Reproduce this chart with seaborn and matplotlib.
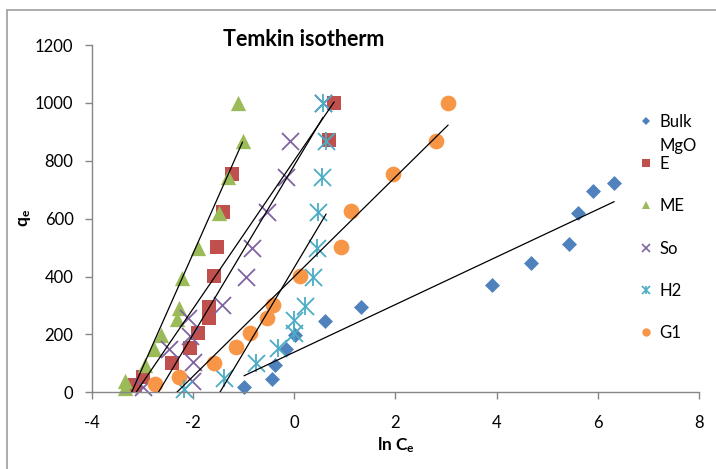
import matplotlib
matplotlib.use("Agg")
import matplotlib.pyplot as plt
from matplotlib.lines import Line2D
import seaborn as sns

# Temkin isotherm readings: ln Ce (x) against qe (y) for each MgO sample
bulk_x = [-0.99, -0.44, -0.38, -0.16, 0.01, 0.61, 1.31, 3.91, 4.68, 5.43, 5.60, 5.90, 6.32]
bulk_y = [20, 45, 96, 150, 197, 248, 294, 371, 446, 513, 618, 697, 724]

e_x = [-3.14, -2.98, -2.42, -2.06, -1.89, -1.69, -1.69, -1.59, -1.53, -1.41, -1.22, 0.68, 0.79]
e_y = [25, 54, 100, 152, 204, 256, 296, 402, 503, 624, 754, 872, 1000]

me_x = [-3.35, -3.35, -2.94, -2.76, -2.63, -2.32, -2.27, -2.22, -1.90, -1.49, -1.30, -1.02, -1.11]
me_y = [40, 15, 95, 148, 198, 252, 290, 395, 497, 620, 745, 868, 1000]

so_x = [-2.98, -2.02, -1.99, -2.48, -2.06, -2.09, -1.43, -0.95, -0.84, -0.54, -0.16, -0.08, 0.57]
so_y = [20, 40, 106, 150, 195, 256, 300, 400, 500, 622, 745, 870, 1000]

h2_x = [-2.18, -1.38, -0.76, -0.31, 0.0, 0.0, 0.22, 0.37, 0.45, 0.48, 0.55, 0.63, 0.57]
h2_y = [12, 48, 100, 152, 204, 250, 298, 400, 500, 622, 745, 870, 1000]

g1_x = [-2.75, -2.27, -1.59, -1.15, -0.88, -0.54, -0.41, 0.12, 0.93, 1.13, 1.95, 2.80, 3.04]
g1_y = [28, 54, 102, 155, 204, 256, 302, 402, 503, 627, 755, 870, 1000]

labels = ["Bulk MgO", "E", "ME", "So", "H2", "G1"]
colors = ["#4F81BD", "#C0504D", "#9BBB59", "#8064A2", "#4BACC6", "#F79646"]

x_ticks = [-4, -2, 0, 2, 4, 6, 8]
y_ticks = [0, 200, 400, 600, 800, 1000, 1200]

sns.set_theme(style="white")
plt.rcParams["font.family"] = ["Lato", "DejaVu Sans"]
plt.rcParams["mathtext.fontset"] = "custom"
plt.rcParams["mathtext.rm"] = "Lato"
plt.rcParams["mathtext.bf"] = "Lato:bold"
plt.rcParams["mathtext.it"] = "Lato:italic"

W, H = 716, 469
fig = plt.figure(figsize=(W / 100, H / 100), dpi=100)
fig.patch.set_facecolor("white")

left, right, top, bottom = 91.6, 699.3, 45.0, 392.3
ax = fig.add_axes([left / W, 1 - bottom / H, (right - left) / W, (bottom - top) / H])
ax.set_facecolor("white")

series = [
    (bulk_x, bulk_y, "D", 58),
    (e_x, e_y, "s", 100),
    (me_x, me_y, "^", 121),
    (so_x, so_y, "x", 150),
    (h2_x, h2_y, "x", 150),
    (g1_x, g1_y, "o", 128),
]

for (xs, ys, mk, size), col in zip(series, colors):
    if mk == "x":
        sns.scatterplot(x=xs, y=ys, marker="x", s=size, color=col,
                        linewidth=1.3, ax=ax, zorder=2, clip_on=False)
    else:
        sns.scatterplot(x=xs, y=ys, marker=mk, s=size, color=col,
                        linewidth=0, ax=ax, zorder=2, clip_on=False)

# H2 uses a star marker: an x crossed by a vertical stroke
sns.scatterplot(x=h2_x, y=h2_y, marker="|", s=150, color=colors[4],
                linewidth=1.3, ax=ax, zorder=2, clip_on=False)

# Linear trendlines over each sample's data range
for (xs, ys, mk, size) in series:
    sns.regplot(x=xs, y=ys, scatter=False, ci=None, truncate=True, color="black",
                line_kws={"linewidth": 0.9, "zorder": 3}, ax=ax)

ax.set_xlim(-4, 8)
ax.set_ylim(0, 1200)
ax.set_xticks(x_ticks)
ax.set_yticks(y_ticks)
ax.set_xticklabels([str(t) for t in x_ticks])
ax.set_yticklabels([str(t) for t in y_ticks])
ax.set_xlabel("")
ax.set_ylabel("")

axis_grey = "#868686"
for side in ("top", "right"):
    ax.spines[side].set_visible(False)
for side in ("left", "bottom"):
    ax.spines[side].set_color(axis_grey)
    ax.spines[side].set_linewidth(1.0)
ax.tick_params(axis="both", which="major", direction="out", length=5, width=1,
               color=axis_grey, labelsize=12, labelcolor="black")
ax.tick_params(axis="x", bottom=True, pad=11)
ax.tick_params(axis="y", left=True, pad=8)
ax.grid(False)

# Title and axis labels
fig.text(223 / W, 1 - 40 / H, "Temkin isotherm", ha="left", va="center",
         fontsize=15.5, fontweight="bold", color="black")
fig.text(25 / W, 1 - 218 / H, r"q$_{\mathbf{e}}$", rotation=90, ha="center",
         va="center", fontsize=12.5, fontweight="bold", color="black")
fig.text(396 / W, 1 - 445 / H, r"ln C$_{\mathbf{e}}$", ha="center", va="center",
         fontsize=12.5, fontweight="bold", color="black")

# Legend
handles = [
    Line2D([], [], marker="D", color=colors[0], linestyle="none", markersize=4.1, markeredgewidth=0),
    Line2D([], [], marker="s", color=colors[1], linestyle="none", markersize=5.5, markeredgewidth=0),
    Line2D([], [], marker="^", color=colors[2], linestyle="none", markersize=6, markeredgewidth=0),
    Line2D([], [], marker="x", color=colors[3], linestyle="none", markersize=6, markeredgewidth=1.2),
    (Line2D([], [], marker="x", color=colors[4], linestyle="none", markersize=6, markeredgewidth=1.2),
     Line2D([], [], marker="|", color=colors[4], linestyle="none", markersize=6, markeredgewidth=1.2)),
    Line2D([], [], marker="o", color=colors[5], linestyle="none", markersize=6, markeredgewidth=0),
]
legend_labels = ["Bulk", "E", "ME", "So", "H2", "G1"]
leg = ax.legend(handles, legend_labels, loc="upper left",
                bbox_to_anchor=(640 / W, 1 - 114 / H), bbox_transform=fig.transFigure,
                frameon=False, fontsize=12, labelspacing=1.57, handlelength=0.7,
                handletextpad=0.45, borderpad=0, borderaxespad=0)
for t in leg.get_texts():
    t.set_color("black")

fig.canvas.draw()
bb = leg.get_texts()[0].get_window_extent()
fig.text(bb.x0 / W, (bb.y0 + bb.y1) / 2 / H - 24 / H, "MgO", ha="left", va="center",
         fontsize=12, color="black")

# Chart-area frame
frame = "#A6A6A6"
fig.add_artist(Line2D([7 / W, 1], [1 - 10 / H, 1 - 10 / H], transform=fig.transFigure,
                      color=frame, linewidth=1.3))
fig.add_artist(Line2D([7 / W, 7 / W], [0, 1 - 10 / H], transform=fig.transFigure,
                      color=frame, linewidth=1.3))

fig.savefig("out.png", dpi=100, facecolor="white")
